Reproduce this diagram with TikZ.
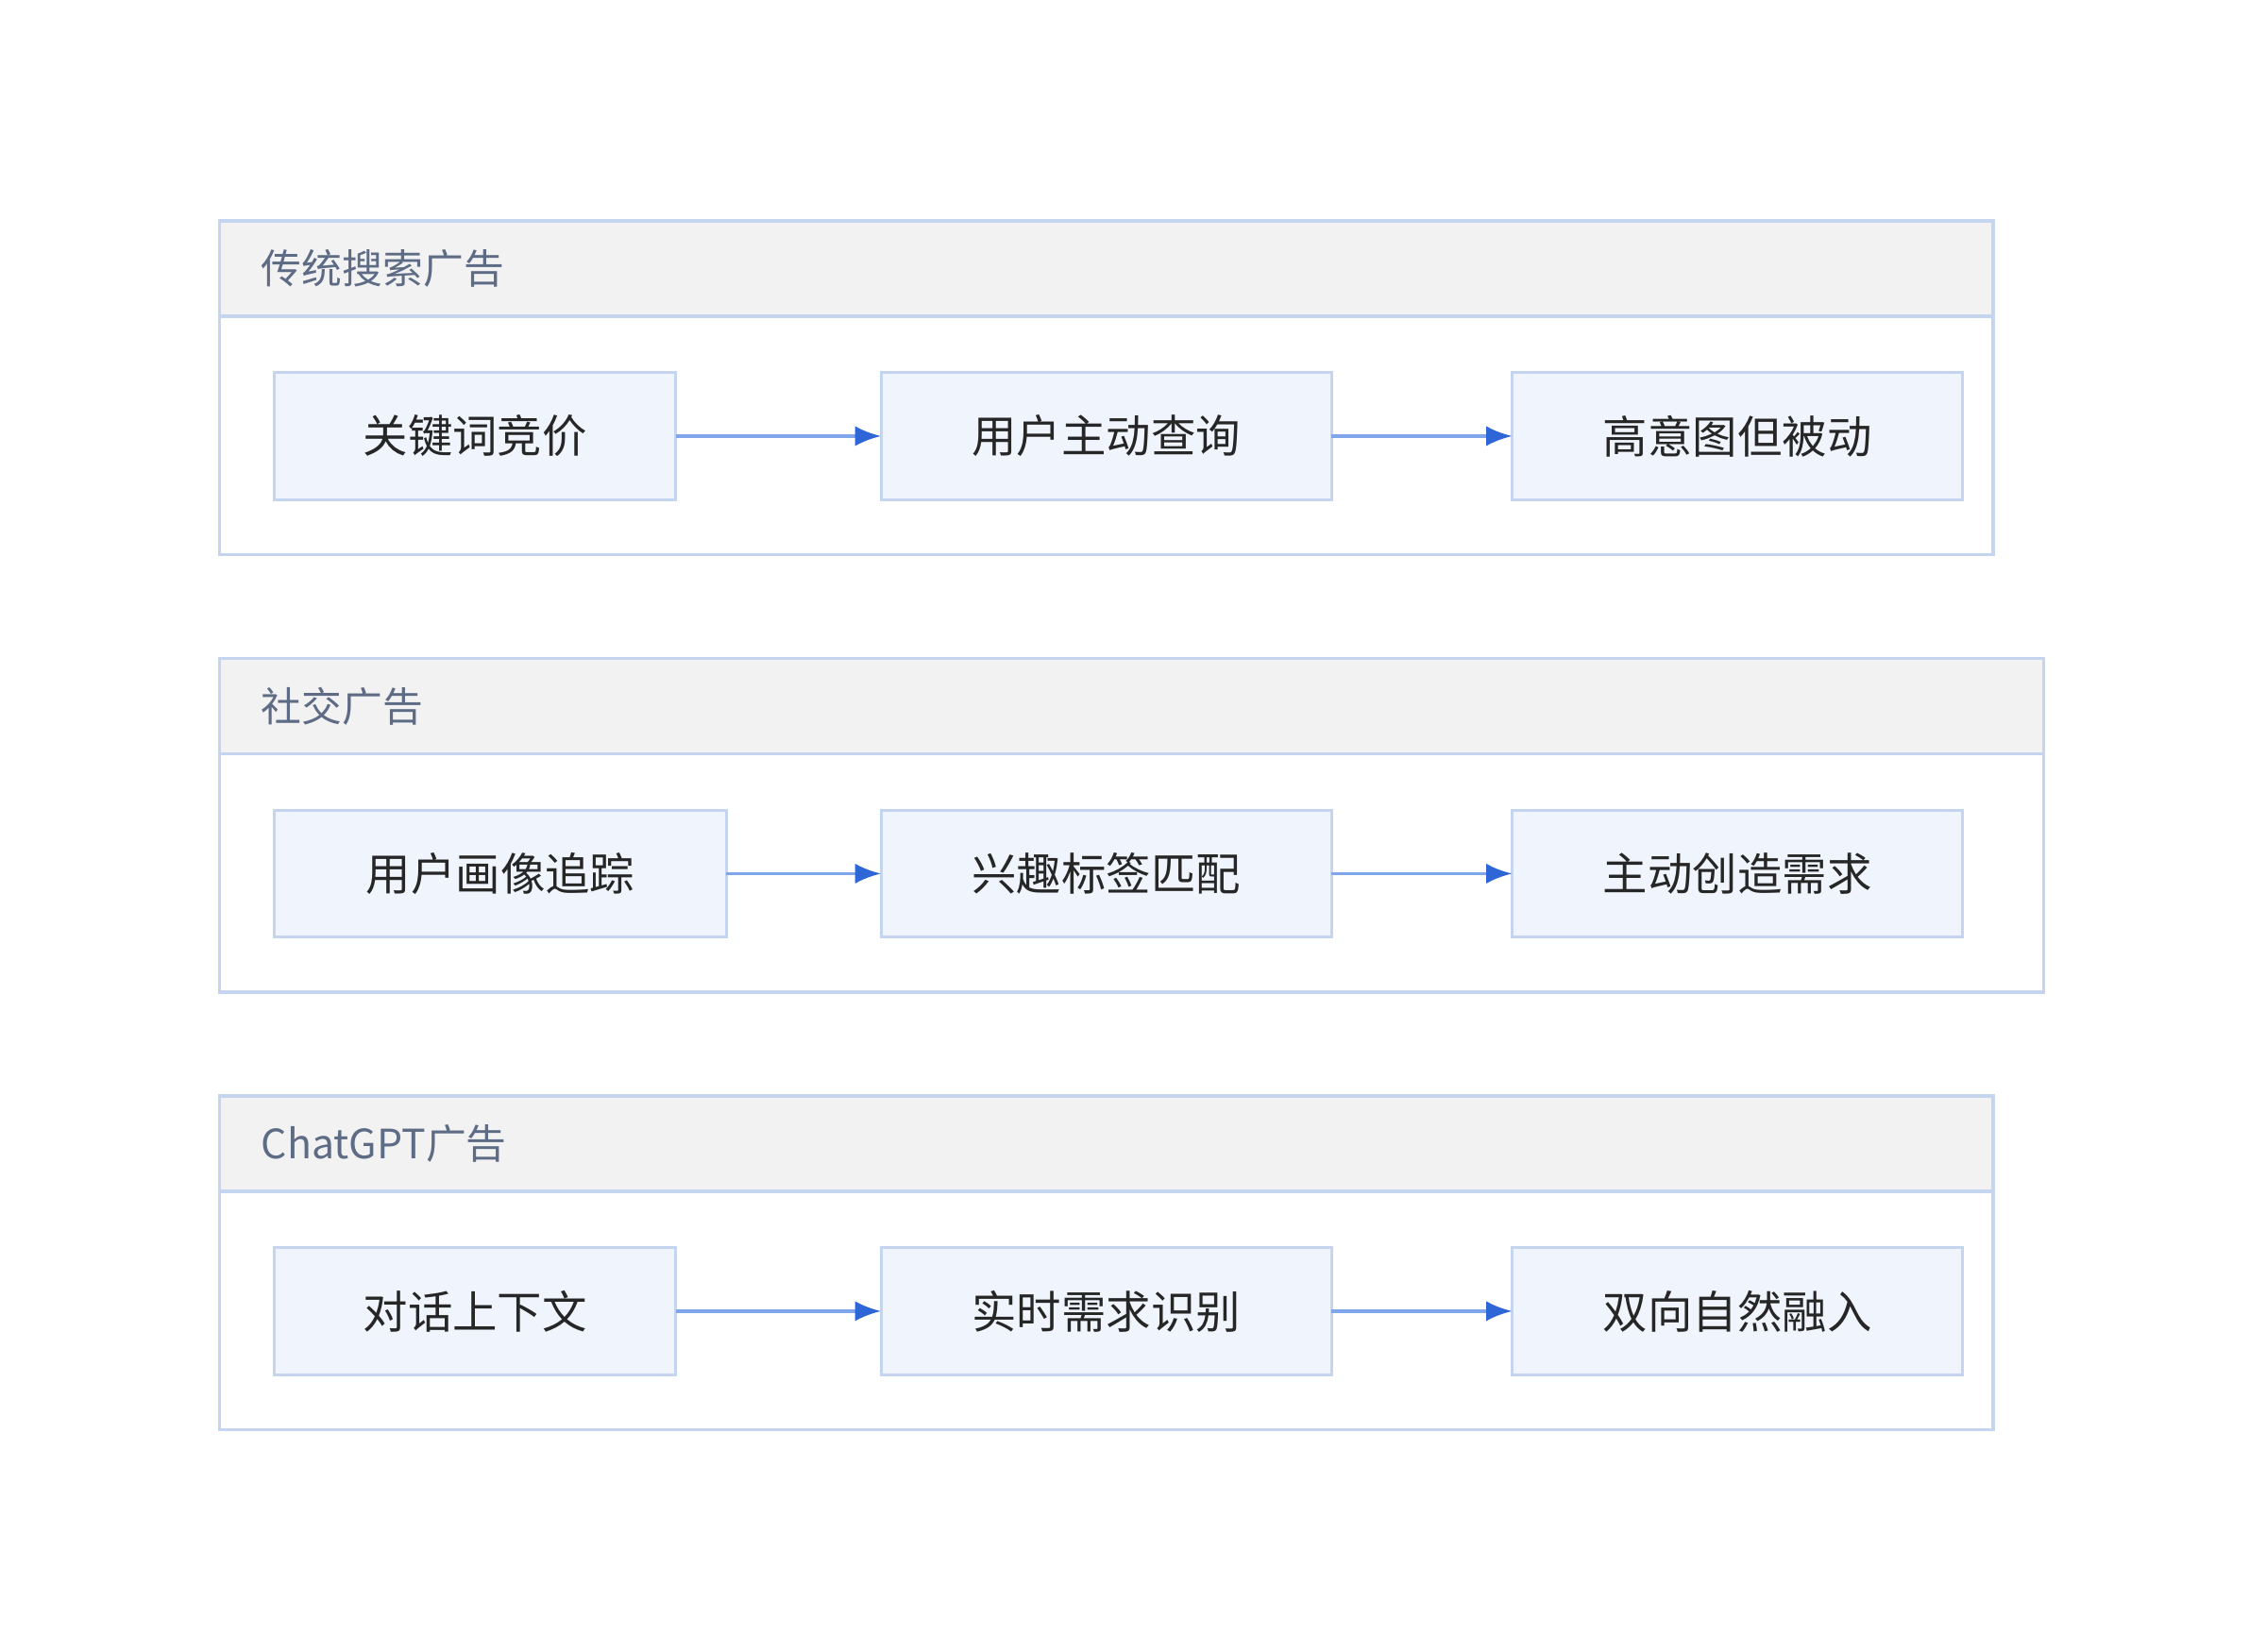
\documentclass[tikz,border=0pt]{standalone}
\usepackage{fontspec}
\newfontfamily\cjk{Noto Sans CJK SC}
\usetikzlibrary{arrows.meta}
\definecolor{bd}{HTML}{C5D5EF}
\definecolor{nf}{HTML}{EFF4FD}
\definecolor{hf}{HTML}{F2F2F2}
\definecolor{tt}{HTML}{5E6B85}
\definecolor{al}{HTML}{7FA6EA}
\definecolor{at}{HTML}{2E66D8}
\begin{document}
\begin{tikzpicture}[x=0.5pt,y=-0.5pt,
 grp/.style={draw=bd,line width=1.2pt},
 hdr/.style={draw=bd,fill=hf,line width=1.2pt},
 ttl/.style={anchor=west,text=tt,font=\cjk\fontsize{14}{16}\selectfont},
 box/.style={draw=bd,fill=nf,line width=1pt},
 lbl/.style={font=\cjk\fontsize{15.5}{18}\selectfont,text=black!85},
 arr/.style={draw=al,line width=1.1pt,-{Latex[length=9pt,width=7pt,color=at]}}]
\useasboundingbox (0,0) rectangle (1569,1144);
\foreach \t/\r/\h/\lbl in {153/1380/219/传统搜索广告,456/1415/522/社交广告,759/1380/825/ChatGPT广告}{
 \draw[grp] (152,\t) rectangle (\r,\t+231);
 \draw[hdr] (152,\t) rectangle (\r,\h);
 \node[ttl] at (174,\t+33) {\lbl};
}
\newcommand\mkbox[6]{\draw[box] (#2,#3) rectangle (#4,#5); \coordinate (#1W) at (#2,#3/2+#5/2); \coordinate (#1E) at (#4,#3/2+#5/2); \node[lbl] (#1) at (#2/2+#4/2,#3/2+#5/2) {#6};}
\mkbox{a1}{190}{258}{468}{346}{关键词竞价}
\mkbox{a2}{610}{258}{922}{346}{用户主动查询}
\mkbox{a3}{1047}{258}{1359}{346}{高意图但被动}
\mkbox{b1}{190}{561}{503}{649}{用户画像追踪}
\mkbox{b2}{610}{561}{922}{649}{兴趣标签匹配}
\mkbox{b3}{1047}{561}{1359}{649}{主动创造需求}
\mkbox{c1}{190}{864}{468}{952}{对话上下文}
\mkbox{c2}{610}{864}{922}{952}{实时需求识别}
\mkbox{c3}{1047}{864}{1359}{952}{双向自然融入}
\foreach \r in {a,b,c}{
 \draw[arr] (\r1E) -- (\r2W);
 \draw[arr] (\r2E) -- (\r3W);
}
\end{tikzpicture}
\end{document}
